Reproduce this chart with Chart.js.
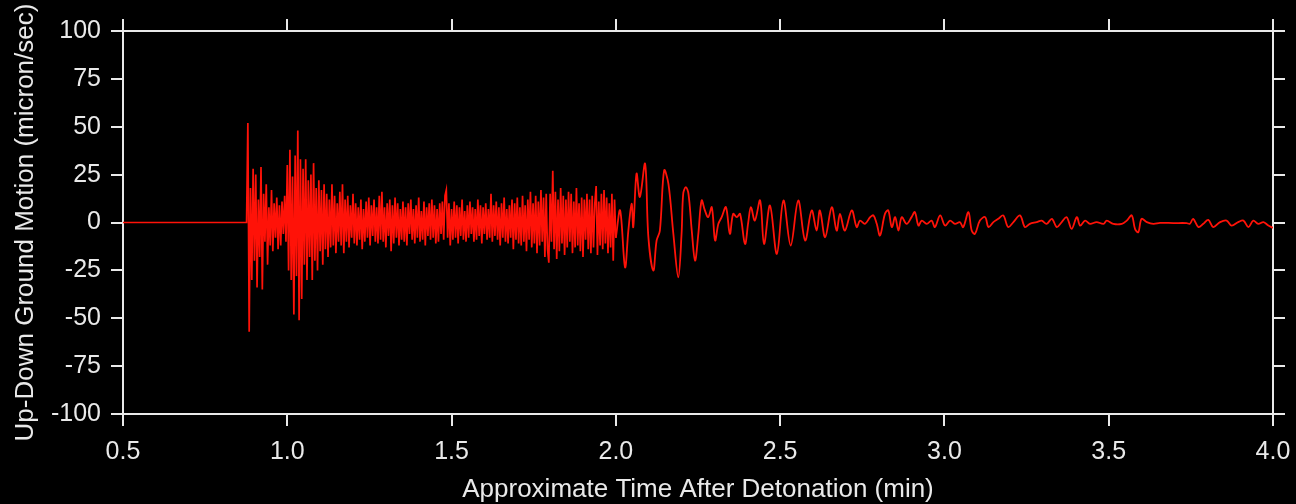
<!DOCTYPE html>
<html>
<head>
<meta charset="utf-8">
<title>Up-Down Ground Motion</title>
<script src="https://cdn.jsdelivr.net/npm/chart.js@4.4.1/dist/chart.umd.min.js"></script>
<style>
  html, body { margin: 0; padding: 0; background: #000; }
  canvas { display: block; }
</style>
</head>
<body>
<canvas id="seismo" width="1296" height="504"></canvas>
<script>
// Axis ticks
const timeTicks = [0.5, 1.0, 1.5, 2.0, 2.5, 3.0, 3.5, 4.0];
const motionTicks = [-100, -75, -50, -25, 0, 25, 50, 75, 100];

// Quiet trace before the first arrival (min, micron/sec)
const quietTimes = [0.5, 0.6, 0.7, 0.8, 0.874];
const quietValues = [0, 0, 0, 0, 0];

// Main arrivals, sampled every burstStep minutes from burstStart
const burstStart = 0.876;
const burstStep = 0.004;
const burstValues = [
  0, 52, -57, 18, -30, 28, -20, 25, -34, 12, -18, 29, -35, 15, -10, 20, -22, 8, -12, 17,
  -15, 10, -8, 13, -14, 9, -12, 11, -6, 14, -10, 30, -25, 38, -30, 24, -48, 35, -28, 48,
  -51, 33, -40, 28, -22, 33, -30, 22, -18, 25, -30, 31, -20, 18, -25, 22, -15, 17, -22, 20,
  -14, 15, -18, 12, -13, 20, -12, 14, -16, 10, -10, 16, -12, 20, -16, 12, -10, 14, -13, 9,
  -8, 15, -11, 10, -12, 8, -9, 12, -14, 7, -10, 11, -8, 13, -12, 9, -7, 12, -10, 8,
  -11, 14, -9, 16, -10, 8, -13, 10, -7, 12, -15, 9, -11, 13, -8, 10, -12, 7, -9, 11,
  -10, 8, -12, 10, -6, 12, -9, 7, -11, 9, -8, 13, -10, 6, -9, 11, -12, 8, -7, 10,
  -9, 12, -8, 9, -11, 7, -10, 10, -6, 11, -9, 14, 17, -8, 10, -12, 7, -9, 11, -8,
  9, -11, 8, -7, 12, -9, 6, -10, 9, -8, 11, -6, 8, -10, 7, -9, 12, -7, 9, -11,
  8, -6, 10, -9, 7, -8, 15, -10, 9, -7, 11, -9, 8, -12, 10, -8, 13, -10, 7, -11,
  9, -8, 12, -14, 10, -9, 13, -11, 8, -12, 14, -10, 9, -15, 12, -9, 16, -13, 10, -11,
  14, -16, 11, -12, 17, -10, 13, -18, 15, -14, -21, 15, -10, 27, -14, 16, -19, 12, -15, 18,
  -11, 14, -17, 12, -13, 16, -10, 15, -16, 11, -13, 18, -12, 10, -15, 13, -18, 12, -9, 15,
  -14, 12, -16, 14, -13, 10, 19, -17, 11, -12, 15, -14, 17, -11, 13, -16, 10, -13, 15, -20,
  12, -8
];

// Surface-wave train and decaying coda
const codaTimes = [
  2.013, 2.028, 2.038, 2.048, 2.053, 2.063, 2.073, 2.089, 2.099, 2.114,
  2.124, 2.134, 2.147, 2.160, 2.175, 2.190, 2.200, 2.205, 2.213, 2.221,
  2.231, 2.241, 2.251, 2.261, 2.271, 2.281, 2.292, 2.302, 2.312, 2.322,
  2.335, 2.347, 2.357, 2.368, 2.378, 2.393, 2.403, 2.411, 2.423, 2.439,
  2.451, 2.469, 2.490, 2.510, 2.532, 2.555, 2.576, 2.596, 2.611, 2.621,
  2.637, 2.657, 2.672, 2.682, 2.697, 2.718, 2.733, 2.743, 2.758, 2.774,
  2.784, 2.794, 2.804, 2.819, 2.829, 2.840, 2.850, 2.860, 2.870, 2.885,
  2.900, 2.910, 2.921, 2.931, 2.946, 2.961, 2.971, 2.987, 3.002, 3.017,
  3.032, 3.047, 3.057, 3.073, 3.083, 3.093, 3.108, 3.124, 3.134, 3.149,
  3.164, 3.179, 3.194, 3.210, 3.230, 3.245, 3.260, 3.281, 3.296, 3.311,
  3.327, 3.342, 3.357, 3.372, 3.387, 3.403, 3.413, 3.428, 3.443, 3.463,
  3.484, 3.494, 3.514, 3.540, 3.555, 3.570, 3.580, 3.590, 3.600, 3.616,
  3.636, 3.656, 3.697, 3.737, 3.747, 3.757, 3.773, 3.788, 3.803, 3.818,
  3.839, 3.859, 3.874, 3.894, 3.910, 3.925, 3.940, 3.955, 3.971, 3.986,
  4.000
];
const codaValues = [
  6.3, -23.4, -4.2, 9.8, -2.4, 25.5, 13.3, 30.7, -7.7, -25.1,
  -9.4, -4.2, 27.2, 20.2, -5.9, -28.6, -5.9, 15, 18.5, 15,
  -4.2, -19.9, -5.9, 11.5, 6.3, 2.8, 8, -9.4, -0.7, 2.8,
  8, -5.9, 4.5, 2.8, 4.5, -11.2, 0.2, 8, 1, 11.5,
  -11.2, 8.9, -16.4, 11.5, -12, 11.5, -9.4, 6.3, -4.2, 6.3,
  -7.7, 8, -4.2, 4.5, -4.2, 6.3, -2.4, 1, -0.7, 2.8,
  3.7, -0.7, -6.8, 4.5, 6.3, -2.4, 2.8, -4.2, 2.8, -0.7,
  2.8, 5.4, -1.6, 1, -0.7, 1, -2.4, 3.7, -1.6, 1,
  -0.7, 0.2, -2.4, 5.4, -4.2, -5.9, 1, 2.8, -2.4, 0.2,
  1.9, 3.7, -2.4, 0.2, 3.7, -2.4, -0.7, 0.2, 1, -0.7,
  1.9, -2.4, 0.2, 2.8, -3.3, 2.8, -1.6, 1, -0.7, 0.2,
  -0.7, 1, -0.7, -0.7, 1, 3.7, -3.3, -5.1, 1.9, 0.2,
  -0.7, -0.2, -0.3, -0.3, -0.7, 1.9, -2.4, -0.7, 1.4, -2.4,
  0.2, 1, -1.6, 0.2, 1, -2.4, 1, -0.7, 0.2, -1.6,
  -2.8
];

// Body-wave part of the trace: quiet lead-in plus the sampled arrivals
const bodyTrace = [];
quietTimes.forEach((t, i) => bodyTrace.push({ x: t, y: quietValues[i] }));
burstValues.forEach((v, i) => bodyTrace.push({ x: burstStart + i * burstStep, y: v }));

// Surface-wave part, joined onto the last body-wave sample
const codaTrace = [bodyTrace[bodyTrace.length - 1]];
codaTimes.forEach((t, i) => codaTrace.push({ x: t, y: codaValues[i] }));

const traceColor = '#ff1208';
const frameColor = '#e9e9e9';
const family = '"Liberation Sans", Arial, Helvetica, sans-serif';
const tickFont = { family, size: 25 };
const titleFont = { family, size: 26 };

const frameGrid = { drawOnChartArea: false, drawTicks: true, tickLength: 12, color: frameColor, lineWidth: 2 };
const frameBorder = { color: frameColor, width: 2 };
const setTicks = (list) => (scale) => { scale.ticks = list.map(v => ({ value: v })); };
// Fixed frame margins; end labels may overhang into them
const fixHeight = (h) => (s) => { s.height = h; s.paddingLeft = 0; s.paddingRight = 0; };
const fixWidth = (w) => (s) => { s.width = w; s.paddingTop = 0; s.paddingBottom = 0; };

new Chart(document.getElementById('seismo'), {
  type: 'line',
  data: {
    datasets: [
      { data: bodyTrace, borderColor: traceColor, borderWidth: 1.7, pointRadius: 0, tension: 0, fill: false },
      { data: codaTrace, borderColor: traceColor, borderWidth: 1.8, pointRadius: 0, tension: 0.35, fill: false }
    ]
  },
  options: {
    responsive: false,
    animation: false,
    events: [],
    layout: { padding: 0 },
    plugins: { legend: { display: false }, tooltip: { enabled: false } },
    scales: {
      x: {
        type: 'linear', position: 'bottom', min: 0.5, max: 4,
        afterBuildTicks: setTicks(timeTicks),
        afterFit: fixHeight(90),
        grid: frameGrid, border: frameBorder,
        ticks: { color: frameColor, font: tickFont, padding: 11, maxRotation: 0,
                 callback: (v) => Number(v).toFixed(1) },
        title: { display: true, text: 'Approximate Time After Detonation (min)',
                 color: frameColor, font: titleFont, padding: { top: 0, bottom: -1 } }
      },
      x2: {
        type: 'linear', position: 'top', min: 0.5, max: 4,
        afterBuildTicks: setTicks(timeTicks),
        afterFit: fixHeight(31),
        grid: frameGrid, border: frameBorder,
        ticks: { display: false }
      },
      y: {
        type: 'linear', position: 'left', min: -100, max: 100,
        afterBuildTicks: setTicks(motionTicks),
        afterFit: fixWidth(123),
        grid: frameGrid, border: frameBorder,
        ticks: { color: frameColor, font: tickFont, padding: 10 },
        title: { display: true, text: 'Up-Down Ground Motion (micron/sec)',
                 color: frameColor, font: titleFont, padding: { top: 10, bottom: 0 } }
      },
      y2: {
        type: 'linear', position: 'right', min: -100, max: 100,
        afterBuildTicks: setTicks(motionTicks),
        afterFit: fixWidth(23),
        grid: frameGrid, border: frameBorder,
        ticks: { display: false }
      }
    }
  }
});
</script>
</body>
</html>
